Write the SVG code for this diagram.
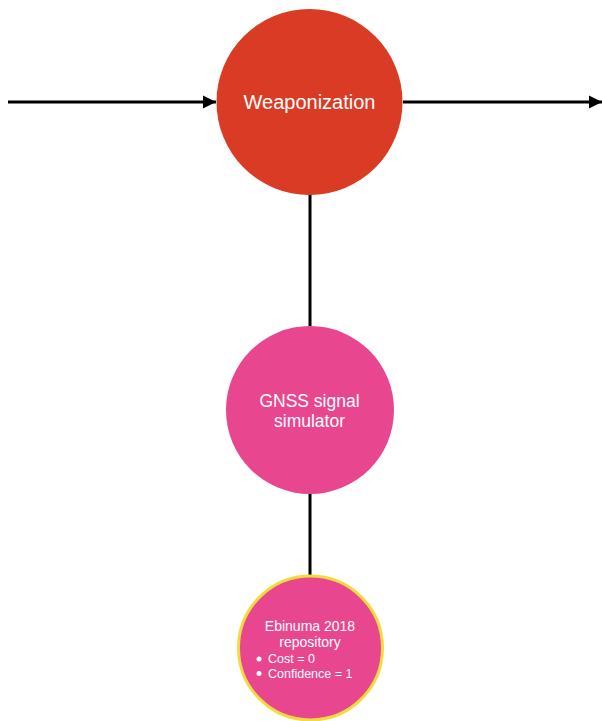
<svg xmlns="http://www.w3.org/2000/svg" width="602" height="721" viewBox="0 0 602 721">
  <defs>
    <marker id="arrow" viewBox="0 0 10 10" refX="10" refY="5" markerWidth="4.5" markerHeight="4.5" orient="auto" markerUnits="strokeWidth">
      <path d="M0,0 L10,5 L0,10 Z" fill="#000"/>
    </marker>
  </defs>
  <style>
    .edge { stroke: #000; stroke-width: 3; fill: none; }
    .label { font-family: "Liberation Sans", Arial, sans-serif; fill: #fff; text-anchor: middle; }
    .bullet { font-family: "Liberation Sans", Arial, sans-serif; fill: #fff; font-size: 12.5px; }
  </style>
  <rect width="602" height="721" fill="#fff"/>
  <g id="connectors">
    <line class="edge" x1="8" y1="102" x2="216" y2="102" marker-end="url(#arrow)"/>
    <line class="edge" x1="403" y1="102" x2="602" y2="102" marker-end="url(#arrow)"/>
    <line class="edge" x1="310" y1="194" x2="310" y2="327"/>
    <line class="edge" x1="310" y1="493" x2="310" y2="579"/>
  </g>
  <g id="weaponization">
    <circle cx="309.5" cy="102" r="93" fill="#D93B25"/>
    <text class="label" x="309.5" y="109" font-size="20">Weaponization</text>
  </g>
  <g id="gnss-simulator">
    <circle cx="310" cy="410" r="84" fill="#E8468F"/>
    <text class="label" x="309.5" y="406.5" font-size="17.5">GNSS signal</text>
    <text class="label" x="309.5" y="427" font-size="17.5">simulator</text>
  </g>
  <g id="ebinuma-repository">
    <circle cx="310.5" cy="648" r="72" fill="#E8468F" stroke="#F0DC40" stroke-width="3"/>
    <text class="label" x="310" y="631" font-size="14">Ebinuma 2018</text>
    <text class="label" x="310" y="647" font-size="14">repository</text>
    <circle cx="259" cy="659" r="2.5" fill="#fff"/>
    <text class="bullet" x="268" y="663">Cost = 0</text>
    <circle cx="259" cy="673.5" r="2.5" fill="#fff"/>
    <text class="bullet" x="268" y="677.5">Confidence = 1</text>
  </g>
</svg>
